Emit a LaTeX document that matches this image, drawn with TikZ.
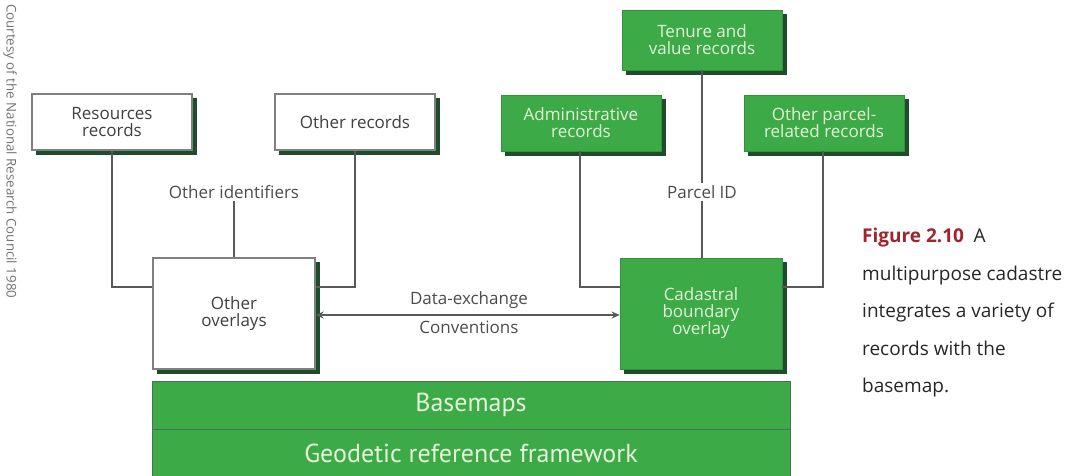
\documentclass[tikz,border=0pt]{standalone}
\usepackage{fontspec}
\setmainfont{PT Sans}
\newfontfamily\capfont{Open Sans}
\usetikzlibrary{arrows.meta, positioning, backgrounds}
\definecolor{recgreen}{HTML}{3DAA48}
\definecolor{shadegreen}{HTML}{1E4D2B}
\definecolor{paletext}{HTML}{E4F5D8}
\definecolor{figred}{HTML}{A3232B}

\begin{document}
\begin{tikzpicture}[
  x=1pt, y=-1pt,
  boxfont/.style={font=\capfont\fontsize{17}{17}\selectfont},
  whitebox/.style={draw=gray, line width=1.3pt, fill=white, text=black!75,
    boxfont, align=center, minimum width=160pt, minimum height=56pt},
  greenbox/.style={draw=recgreen!85!black, line width=0.6pt, fill=recgreen,
    text=paletext, boxfont, align=center, minimum width=160pt,
    minimum height=56pt},
  barbox/.style={draw=shadegreen!80, line width=0.8pt, fill=recgreen,
    text=paletext, font=\fontsize{26}{26}\selectfont, minimum width=638pt,
    minimum height=48pt},
  link/.style={draw=black!65, line width=1.5pt},
  tag/.style={text=black!70, boxfont, inner sep=2pt},
  ]
  \useasboundingbox (0,0) rectangle (1078,475);

  % credit along the left edge
  \node[rotate=-90, anchor=west, inner sep=0pt, text=black!55,
    font=\capfont\fontsize{13.3}{14}\selectfont] (credit) at (10,4)
    {Courtesy of the National Research Council 1980};

  % records
  \node[whitebox] (res) at (112,122) {Resources\\records};
  \node[whitebox] (oth) at (355,122) {Other records};
  \node[greenbox, minimum height=60pt] (ten) at (702,40) {Tenure and\\value records};
  \node[greenbox] (adm) at (581,123) {Administrative\\records};
  \node[greenbox] (opr) at (824,123) {Other parcel-\\related records};

  % overlays
  \node[whitebox, minimum width=162pt, minimum height=111pt] (ovl) at (234,313.5)
    {Other\\overlays};
  \node[greenbox, minimum width=162pt, minimum height=111pt] (cad) at (701,313.5)
    {Cadastral\\boundary\\overlay};

  % base layers
  \node[barbox] (base) at (471,405) {Basemaps};
  \node[barbox] (geo) at (471,453.5) {Geodetic reference framework};

  % drop shadows
  \begin{scope}[on background layer]
    \foreach \bx in {res, oth, ten, adm, opr, ovl, cad}
      \fill[shadegreen] ([xshift=4.5pt, yshift=-4.5pt]\bx.south west)
        rectangle ([xshift=4.5pt, yshift=-4.5pt]\bx.north east);
  \end{scope}

  % identifiers
  \node[tag] (oid) at (234,192) {Other identifiers};
  \node[tag] (pid) at (702,192) {Parcel ID};
  \node[tag] (dex) at (469,300) {Data-exchange};
  \node[tag] (con) at (469,327) {Conventions};

  \draw[link] (res.south) |- ([yshift=26.5pt]ovl.west);
  \draw[link] (oth.south) |- ([yshift=26.5pt]ovl.east);
  \draw[link] (oid.south) -- (ovl.north);
  \draw[link] (adm.south -| 580,0) |- ([yshift=26.5pt]cad.west);
  \draw[link] (opr.south -| 823,0) |- ([yshift=26.5pt]cad.east);
  \draw[link] (ten.south) -- (pid.north);
  \draw[link] (pid.south) -- (cad.north -| pid.south);
  \draw[link, line width=1.2pt, {Stealth[length=8pt,width=7pt]}-{Stealth[length=8pt,width=7pt]}]
    ([yshift=-1.5pt]ovl.east) -- ([yshift=-1.5pt]cad.west);

  % caption
  \node[anchor=north west, inner sep=0pt, align=left,
    font=\capfont\fontsize{19}{37.5}\selectfont, text=black!85] (cap) at (862,228)
    {{\bfseries\color{figred}Figure 2.10}\enspace A\\ multipurpose cadastre\\
     integrates a variety of\\ records with the\\ basemap.};
\end{tikzpicture}
\end{document}
